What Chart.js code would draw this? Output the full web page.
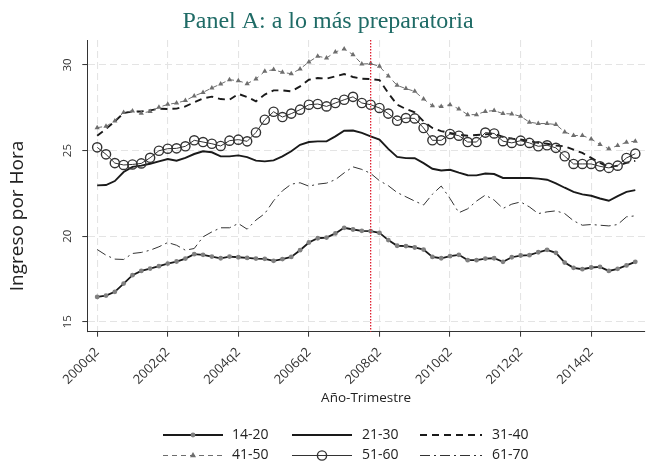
<!DOCTYPE html>
<html><head><meta charset="utf-8">
<script src="https://cdn.jsdelivr.net/npm/chart.js@4.4.1/dist/chart.umd.min.js"></script>
<style>html,body{margin:0;padding:0;background:#fff;}#wrap{width:651px;height:464px;position:relative;}</style>
</head><body><div id="wrap"><canvas id="c" width="651" height="464"></canvas></div>
<script>
const categories = ["2000q2","2000q3","2000q4","2001q1","2001q2","2001q3","2001q4","2002q1","2002q2","2002q3","2002q4","2003q1","2003q2","2003q3","2003q4","2004q1","2004q2","2004q3","2004q4","2005q1","2005q2","2005q3","2005q4","2006q1","2006q2","2006q3","2006q4","2007q1","2007q2","2007q3","2007q4","2008q1","2008q2","2008q3","2008q4","2009q1","2009q2","2009q3","2009q4","2010q1","2010q2","2010q3","2010q4","2011q1","2011q2","2011q3","2011q4","2012q1","2012q2","2012q3","2012q4","2013q1","2013q2","2013q3","2013q4","2014q1","2014q2","2014q3","2014q4","2015q1","2015q2","2015q3"];
const xTickLabels = ["2000q2","2002q2","2004q2","2006q2","2008q2","2010q2","2012q2","2014q2"];
const yTicks = [15, 20, 25, 30];
const seriesNames = ["14-20","21-30","31-40","41-50","51-60","61-70"];
const eventQuarter = "2008q1";

const s14_20 = [16.45,16.53,16.75,17.23,17.72,17.97,18.11,18.25,18.40,18.52,18.69,18.95,18.91,18.81,18.71,18.81,18.77,18.73,18.69,18.68,18.56,18.66,18.79,19.18,19.63,19.88,19.92,20.16,20.49,20.39,
  20.31,20.29,20.19,19.77,19.44,19.42,19.34,19.22,18.79,18.71,18.83,18.91,18.60,18.60,18.69,18.71,18.50,18.77,18.87,18.89,19.06,19.20,19.03,18.46,18.15,18.07,18.17,18.21,17.97,18.09,18.29,18.50];
const s21_30 = [22.97,22.99,23.22,23.75,24.05,24.12,24.23,24.37,24.51,24.41,24.57,24.80,24.96,24.90,24.66,24.66,24.72,24.62,24.41,24.37,24.43,24.66,24.96,25.34,25.50,25.54,25.54,25.83,26.16,26.17,
  26.03,25.83,25.64,25.10,24.63,24.56,24.55,24.27,23.94,23.84,23.88,23.71,23.56,23.55,23.66,23.63,23.40,23.40,23.40,23.40,23.36,23.30,23.09,22.83,22.59,22.44,22.36,22.20,22.07,22.34,22.59,22.69];
const s31_40 = [25.87,26.26,26.71,27.19,27.29,27.29,27.35,27.45,27.43,27.45,27.58,27.82,28.05,28.15,28.01,27.97,28.31,28.13,27.88,28.27,28.52,28.52,28.46,28.75,29.14,29.24,29.20,29.34,29.47,29.30,
  29.20,29.18,29.12,28.36,27.68,27.43,27.23,26.71,26.32,26.14,26.03,25.93,25.87,25.91,25.95,25.99,25.80,25.70,25.65,25.55,25.45,25.40,25.30,25.25,25.06,24.86,24.57,24.28,24.03,24.12,24.28,24.40];
const s41_50 = [26.34,26.42,26.73,27.23,27.31,27.18,27.29,27.53,27.70,27.78,27.92,28.19,28.40,28.66,28.89,29.14,29.08,28.91,29.18,29.63,29.73,29.57,29.49,29.77,30.18,30.51,30.41,30.76,30.94,30.60,
  30.06,30.08,29.92,29.36,28.81,28.62,28.46,28.01,27.62,27.58,27.68,27.43,27.10,27.10,27.29,27.34,27.16,27.14,27.00,26.66,26.58,26.58,26.52,26.09,25.88,25.88,25.68,25.35,25.10,25.29,25.49,25.55];
const s51_60 = [25.19,24.78,24.27,24.16,24.19,24.25,24.58,24.99,25.11,25.13,25.25,25.60,25.50,25.40,25.27,25.58,25.64,25.54,26.06,26.80,27.27,26.96,27.16,27.39,27.68,27.72,27.58,27.78,27.97,28.14,
  27.78,27.68,27.49,27.16,26.75,26.90,26.88,26.32,25.60,25.60,25.97,25.87,25.50,25.50,26.05,26.00,25.55,25.45,25.58,25.45,25.25,25.31,25.16,24.67,24.22,24.22,24.22,24.08,23.99,24.12,24.57,24.82];
const s61_70 = [19.22,18.89,18.66,18.64,18.99,19.05,19.18,19.38,19.63,19.47,19.18,19.28,19.96,20.25,20.49,20.49,20.74,20.41,20.94,21.32,22.07,22.65,23.04,23.12,22.92,23.04,23.10,23.30,23.70,24.05,
  23.90,23.67,23.24,22.95,22.55,22.30,22.05,21.82,22.45,22.93,22.20,21.37,21.60,22.05,22.40,22.11,21.62,21.87,22.00,21.71,21.32,21.42,21.48,21.32,20.90,20.64,20.68,20.64,20.60,20.68,21.13,21.19];

const toXY = arr => arr.map((v, i) => ({x: i, y: v}));

const styles = [
  {borderColor:'#1a1a1a', borderWidth:1.8, borderDash:[], pointStyle:'circle', pointRadius:2.4, pointBackgroundColor:'#808080', pointBorderColor:'#808080', pointBorderWidth:0},
  {borderColor:'#1a1a1a', borderWidth:1.9, borderDash:[], pointStyle:'circle', pointRadius:0, pointBackgroundColor:'transparent', pointBorderColor:'transparent', pointBorderWidth:0},
  {borderColor:'#1a1a1a', borderWidth:1.9, borderDash:[7,5], pointStyle:'circle', pointRadius:0, pointBackgroundColor:'transparent', pointBorderColor:'transparent', pointBorderWidth:0},
  {borderColor:'#6e6e6e', borderWidth:1, borderDash:[5,4], pointStyle:'triangle', pointRadius:3, pointBackgroundColor:'#6e6e6e', pointBorderColor:'#6e6e6e', pointBorderWidth:0},
  {borderColor:'#333333', borderWidth:1, borderDash:[], pointStyle:'circle', pointRadius:4.6, pointBackgroundColor:'rgba(0,0,0,0)', pointBorderColor:'#333333', pointBorderWidth:1.4},
  {borderColor:'#333333', borderWidth:1, borderDash:[10,4,2,4], pointStyle:'circle', pointRadius:0, pointBackgroundColor:'transparent', pointBorderColor:'transparent', pointBorderWidth:0}
];
const seriesData = [s14_20, s21_30, s31_40, s41_50, s51_60, s61_70];

const datasets = seriesData.map((arr, k) => Object.assign({
  label: seriesNames[k], data: toXY(arr), fill: false, tension: 0,
  pointHoverRadius: 0, order: 6 - k
}, styles[k]));

const SANS = "'Open Sans', 'Noto Sans', sans-serif";

const drawExtras = {
  id: 'drawExtras',
  afterDatasetsDraw(chart) {
    const {ctx, chartArea, scales} = chart;
    const px = scales.x.getPixelForValue(categories.indexOf(eventQuarter));
    ctx.save();
    ctx.strokeStyle = '#e02030';
    ctx.lineWidth = 1.3;
    ctx.setLineDash([1.5, 1.5]);
    ctx.beginPath();
    ctx.moveTo(px, chartArea.top);
    ctx.lineTo(px, chartArea.bottom);
    ctx.stroke();
    ctx.restore();
  },
  afterDraw(chart) {
    const {ctx, scales} = chart;
    ctx.save();
    ctx.fillStyle = '#1f6b66';
    ctx.font = "24px 'Liberation Serif', 'DejaVu Serif', serif";
    ctx.textAlign = 'center';
    ctx.textBaseline = 'middle';
    ctx.fillText('Panel A: a lo más preparatoria', 328, 22);
    ctx.fillStyle = '#222';
    ctx.font = "19px " + SANS;
    ctx.save();
    ctx.translate(18, 216);
    ctx.rotate(-Math.PI / 2);
    ctx.fillText('Ingreso por Hora', 0, 0);
    ctx.restore();
    ctx.font = "11.5px " + SANS;
    ctx.fillStyle = '#333';
    yTicks.forEach(v => {
      const py = scales.y.getPixelForValue(v);
      ctx.save();
      ctx.translate(68, py);
      ctx.rotate(-Math.PI / 2);
      ctx.fillText(String(v), 0, 0);
      ctx.restore();
    });
    const cols = [{x0:163, x1:223, tx:232}, {x0:292, x1:352, tx:362}, {x0:420, x1:482, tx:492}];
    const rows = [435, 455.5];
    ctx.font = "14px " + SANS;
    ctx.textAlign = 'left';
    chart.data.datasets.forEach((ds, k) => {
      const c = cols[k % 3], y = rows[Math.floor(k / 3)];
      ctx.save();
      ctx.strokeStyle = ds.borderColor;
      ctx.lineWidth = ds.borderWidth;
      ctx.setLineDash(ds.borderDash || []);
      ctx.beginPath(); ctx.moveTo(c.x0, y); ctx.lineTo(c.x1, y); ctx.stroke();
      ctx.setLineDash([]);
      const mx = (c.x0 + c.x1) / 2, r = ds.pointRadius;
      if (r > 0) {
        ctx.fillStyle = ds.pointBackgroundColor;
        ctx.strokeStyle = ds.pointBorderColor;
        ctx.lineWidth = ds.pointBorderWidth;
        ctx.beginPath();
        if (ds.pointStyle === 'triangle') {
          ctx.moveTo(mx, y - r * 1.15);
          ctx.lineTo(mx + r, y + r * 0.6);
          ctx.lineTo(mx - r, y + r * 0.6);
          ctx.closePath();
        } else {
          ctx.arc(mx, y, r, 0, Math.PI * 2);
        }
        ctx.fill();
        if (ds.pointBorderWidth > 0) ctx.stroke();
      }
      ctx.restore();
      ctx.fillStyle = '#222';
      ctx.textBaseline = 'middle';
      ctx.fillText(ds.label, c.tx, y);
    });
    ctx.restore();
  }
};

const gridCommon = {color:'#e4e4e4', lineWidth:1.1, tickColor:'#333', tickLength:5, tickWidth:1, tickBorderDash:[], drawTicks:true};
const borderCommon = {display:true, color:'#333', width:1, dash:[7,4]};

new Chart(document.getElementById('c'), {
  type: 'line',
  data: { datasets },
  options: {
    responsive: false,
    animation: false,
    devicePixelRatio: 1,
    layout: { padding: {top: 40, right: 1, bottom: 0, left: 0} },
    plugins: { legend: {display: false}, title: {display: false}, tooltip: {enabled: false} },
    events: [],
    scales: {
      x: {
        type: 'linear', min: -1.12, max: 62.1,
        afterBuildTicks: s => { s.ticks = xTickLabels.map(l => ({value: categories.indexOf(l)})); },
        ticks: { autoSkip:false, minRotation:45, maxRotation:45, padding:8, color:'#333',
          font:{size:13, family:SANS}, callback: v => categories[v] },
        grid: gridCommon,
        border: borderCommon,
        title: { display:true, text:'Año-Trimestre', color:'#222', font:{size:13.5, family:SANS}, padding:{top:0, bottom:58} },
        afterFit: s => { s.height = 132.3; }
      },
      y: {
        type: 'linear', min: 14.42, max: 31.46,
        afterBuildTicks: s => { s.ticks = yTicks.map(v => ({value: v})); },
        ticks: { display:false },
        grid: gridCommon,
        border: borderCommon,
        afterFit: s => { s.width = 87.3; }
      }
    }
  },
  plugins: [drawExtras]
});
</script></body></html>
